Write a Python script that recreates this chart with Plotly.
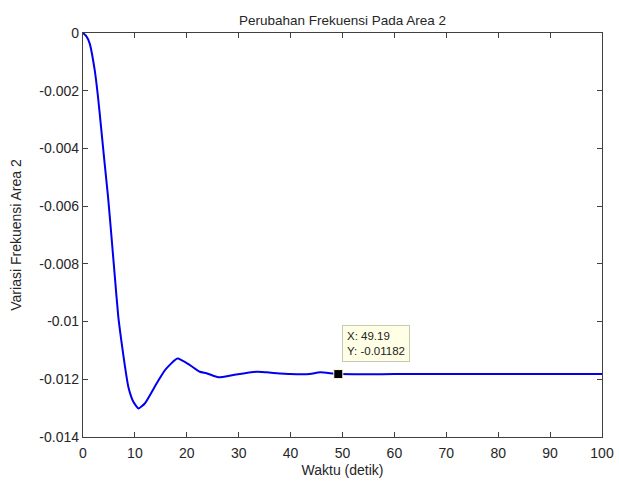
import plotly.graph_objects as go

# Frequency deviation response of area 2 (time in seconds)
waktu = [0, 0.6, 1.28, 2.25, 2.89, 3.53, 4.17, 4.82, 5.46, 6.17, 6.8, 7.45, 8.09,
         8.73, 9.7, 10.7, 11.95, 14.2, 15.8, 18.2, 20.6, 22.5, 23.8, 26.1, 29.0,
         33.5, 35.4, 39.9, 43.7, 45.7, 49.19, 60, 70, 80, 90, 100]
frekuensi = [0, -0.00010, -0.00036, -0.00128, -0.00221, -0.00336, -0.00452, -0.00567,
             -0.00700, -0.00852, -0.00983, -0.01075, -0.01156,
             -0.01226, -0.01278, -0.01301, -0.01283, -0.01214, -0.01168, -0.01128,
             -0.01151, -0.01174, -0.01179, -0.01193, -0.01185,
             -0.01174, -0.01176, -0.01182, -0.01182, -0.01176, -0.01182,
             -0.01182, -0.01182, -0.01182, -0.01182, -0.01182]

tip_x = 49.19
tip_y = -0.01182

x_ticks = [0, 10, 20, 30, 40, 50, 60, 70, 80, 90, 100]
y_ticks = [0, -0.002, -0.004, -0.006, -0.008, -0.01, -0.012, -0.014]
y_tick_text = ["0", "-0.002", "-0.004", "-0.006", "-0.008", "-0.01", "-0.012", "-0.014"]

font_family = "Liberation Sans, Arial, sans-serif"
axis_color = "#404040"
text_color = "#262626"

fig = go.Figure()
fig.add_trace(go.Scatter(
    x=waktu, y=frekuensi, mode="lines",
    line=dict(color="#0000ee", width=2, shape="spline", smoothing=0.5),
    showlegend=False, hoverinfo="skip",
))
fig.add_trace(go.Scatter(
    x=[tip_x], y=[tip_y], mode="markers",
    marker=dict(symbol="square", size=9, color="black",
                line=dict(color="#ffffe1", width=1)),
    showlegend=False, hoverinfo="skip",
))

fig.add_annotation(
    x=tip_x, y=tip_y, xref="x", yref="y",
    text=f"X: {tip_x}<br>Y: {tip_y}",
    showarrow=False, xanchor="left", yanchor="bottom", align="left",
    xshift=4, yshift=12,
    font=dict(family=font_family, size=11.5, color="#222222"),
    bgcolor="#ffffe6", bordercolor="#c8c8b4", borderwidth=1, borderpad=4,
)

axis_common = dict(
    showgrid=False, zeroline=False, showline=True, mirror="ticks",
    linecolor=axis_color, linewidth=1.3, ticks="inside", ticklen=5,
    tickcolor=axis_color, tickwidth=1, automargin=False,
    tickfont=dict(family=font_family, size=14, color=text_color),
)

fig.update_layout(
    width=619, height=484,
    margin=dict(l=83, r=17, t=33, b=47),
    paper_bgcolor="white", plot_bgcolor="white",
    title=dict(text="Perubahan Frekuensi Pada Area 2", x=0.5, xref="paper",
               y=1, yref="paper", yanchor="bottom", pad=dict(b=8),
               font=dict(family=font_family, size=13.5, color=text_color)),
    xaxis=dict(range=[0, 100], tickvals=x_ticks, ticklabelstandoff=3,
               title=dict(text="Waktu (detik)", standoff=5,
                          font=dict(family=font_family, size=14, color=text_color)),
               **axis_common),
    yaxis=dict(range=[-0.014, 0], tickvals=y_ticks, ticktext=y_tick_text,
               title=dict(text="Variasi Frekuensi Area 2", standoff=14,
                          font=dict(family=font_family, size=14, color=text_color)),
               **axis_common),
)

fig.write_html("out.html")
